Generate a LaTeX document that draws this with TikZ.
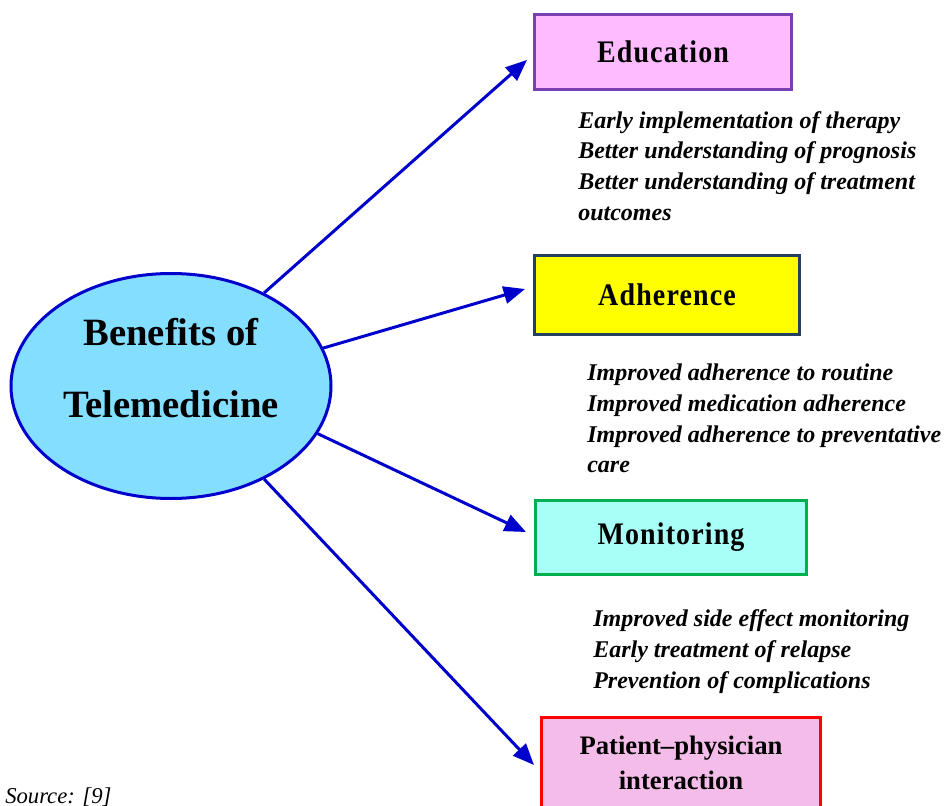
\documentclass[tikz,border=0pt]{standalone}
\usepackage{fontspec}
\setmainfont{Liberation Serif}
\usetikzlibrary{arrows.meta,shapes.geometric}

\definecolor{linkblue}{HTML}{0000CC}
\definecolor{hubfill}{HTML}{84DFFF}
\definecolor{edufill}{HTML}{FFBBFF}
\definecolor{edudraw}{HTML}{7A3FB0}
\definecolor{adhfill}{HTML}{FFFF00}
\definecolor{adhdraw}{HTML}{243F60}
\definecolor{monfill}{HTML}{A8FFF8}
\definecolor{mondraw}{HTML}{00B050}
\definecolor{patfill}{HTML}{F4BCE8}
\definecolor{patdraw}{HTML}{FF0000}

% slightly tall lettering for the box titles
\newcommand{\tallword}[1]{\scalebox{1}[1.12]{#1}}

\tikzset{
  hub/.style={ellipse, draw=linkblue, fill=hubfill, line width=2.25pt,
    minimum width=240pt, minimum height=168.75pt, inner sep=0pt},
  hubtext/.style={align=center, inner sep=0pt,
    font=\fontsize{29pt}{54pt}\selectfont\bfseries},
  topicbox/.style={draw, rectangle, line width=2.25pt, inner sep=0pt, align=center,
    font=\fontsize{21pt}{26pt}\selectfont\bfseries\addfontfeature{LetterSpace=4}},
  itemlist/.style={anchor=north west, align=left, inner sep=0pt,
    font=\fontsize{18pt}{23pt}\selectfont\bfseries\itshape},
  link/.style={draw=linkblue, line width=2.25pt,
    -{Triangle[length=16pt,width=13pt]}, fill=linkblue},
}

\begin{document}
\begin{tikzpicture}[x=0.75pt, y=-0.75pt]
  \useasboundingbox (0,0) rectangle (949,806);
  \clip (0,0) rectangle (949,806);

  % central topic
  \node[hub] (hub) at (171,386) {};
  \node[hubtext] (hubtitle) at (171,368) {Benefits of\\Telemedicine};

  % benefit boxes
  \node[topicbox, fill=edufill, draw=edudraw,
        minimum width=192.75pt, minimum height=56.25pt] (edu) at (663,52) {\tallword{Education}};
  \node[topicbox, fill=adhfill, draw=adhdraw,
        minimum width=198.75pt, minimum height=59.25pt] (adh) at (667,295) {\tallword{Adherence}};
  \node[topicbox, fill=monfill, draw=mondraw,
        minimum width=203.25pt, minimum height=55.5pt] (mon) at (671,537.5) {\tallword{Monitoring}};
  \node[topicbox, fill=patfill, draw=patdraw,
        minimum width=209.25pt, minimum height=68.25pt,
        font=\fontsize{20pt}{26.25pt}\selectfont\bfseries] (pat) at (681,763)
        {Patient--physician\\interaction};

  % item lists under each box
  \node[itemlist] (eduitems) at (578,111) {Early implementation of therapy\\
    Better understanding of prognosis\\
    Better understanding of treatment\\
    outcomes};
  \node[itemlist] (adhitems) at (587,364) {Improved adherence to routine\\
    Improved medication adherence\\
    Improved adherence to preventative\\
    care};
  \node[itemlist, font=\fontsize{18pt}{23.5pt}\selectfont\bfseries\itshape]
    (monitems) at (593,609) {Improved side effect monitoring\\
    Early treatment of relapse\\
    Prevention of complications};

  % connectors
  \draw[link] (hub.45)    -- ([shift={(-6,8)}]edu.west);
  \draw[link] (hub.14.6)  -- ([shift={(-8,-6)}]adh.west);
  \draw[link] (hub.-18.2) -- ([shift={(-8,-5.5)}]mon.west);
  \draw[link] (hub.-45.3) -- ([shift={(-6,2)}]pat.west);

  % source note
  \node[anchor=base west, inner sep=0pt,
        font=\fontsize{17pt}{20pt}\selectfont\itshape] (source) at (5,803) {Source: [9]};
\end{tikzpicture}
\end{document}
